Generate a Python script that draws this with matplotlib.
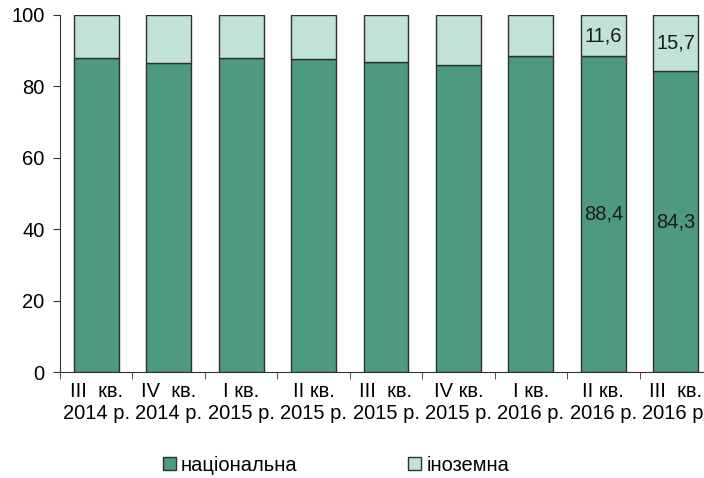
import numpy as np
import matplotlib.pyplot as plt
from matplotlib.patches import Patch

plt.rcParams['font.family'] = ['Liberation Sans', 'DejaVu Sans']

# Data
quarters = ["III  кв.\n2014 р.", "IV  кв.\n2014 р.", "I кв.\n2015 р.", "II кв.\n2015 р.",
            "III  кв.\n2015 р.", "IV кв.\n2015 р.", "I кв.\n2016 р.", "II кв.\n2016 р.",
            "III  кв.\n2016 р."]
national = [88.0, 86.6, 88.0, 87.6, 86.9, 86.1, 88.5, 88.4, 84.3]
foreign = [100 - v for v in national]
foreign[7] = 11.6
foreign[8] = 15.7

c_nat = "#4e9a80"
c_for = "#c0e3d6"
edge = "#2f2f2f"

fig = plt.figure(figsize=(7.04, 4.78), dpi=100)
ax = fig.add_axes([60 / 704, 106 / 478, 652 / 704, 357 / 478])

x = np.arange(len(quarters))
ax.bar(x, national, width=0.62, color=c_nat, edgecolor=edge, linewidth=1)
ax.bar(x, foreign, bottom=national, width=0.62, color=c_for, edgecolor=edge, linewidth=1)

# value labels for the last two quarters
for i in (7, 8):
    ax.text(x[i], national[i] / 2, f"{national[i]:.1f}".replace(".", ","),
            ha="center", va="center", fontsize=14.5, color="#1a1a1a")
    ax.text(x[i], national[i] + foreign[i] / 2, f"{foreign[i]:.1f}".replace(".", ","),
            ha="center", va="center", fontsize=14.5, color="#1a1a1a")

ax.set_xlim(-0.5, len(quarters) - 0.5)
ax.set_ylim(0, 100)
ax.set_yticks(range(0, 101, 20))
ax.tick_params(axis="y", labelsize=14.5, length=5, color="#333333", pad=6)

ax.set_xticks(x)
ax.set_xticklabels(quarters, fontsize=14.5, linespacing=1.25)
ax.tick_params(axis="x", length=0, pad=7)
ax.set_xticks(np.arange(-0.5, len(quarters), 1), minor=True)
ax.tick_params(axis="x", which="minor", length=5, color="#333333")

for s in ("top", "right"):
    ax.spines[s].set_visible(False)
ax.spines["left"].set_color("#333333")
ax.spines["bottom"].set_color("#333333")

handles = [Patch(facecolor=c_nat, edgecolor=edge, label="національна"),
           Patch(facecolor=c_for, edgecolor=edge, label="іноземна")]
fig.legend(handles=handles, loc="center", bbox_to_anchor=(0.477, 0.027), ncol=2,
           frameon=False, fontsize=14.5, handlelength=0.65, handleheight=0.65,
           handletextpad=0.25, columnspacing=5.5)

fig.savefig("out.png", dpi=100)
